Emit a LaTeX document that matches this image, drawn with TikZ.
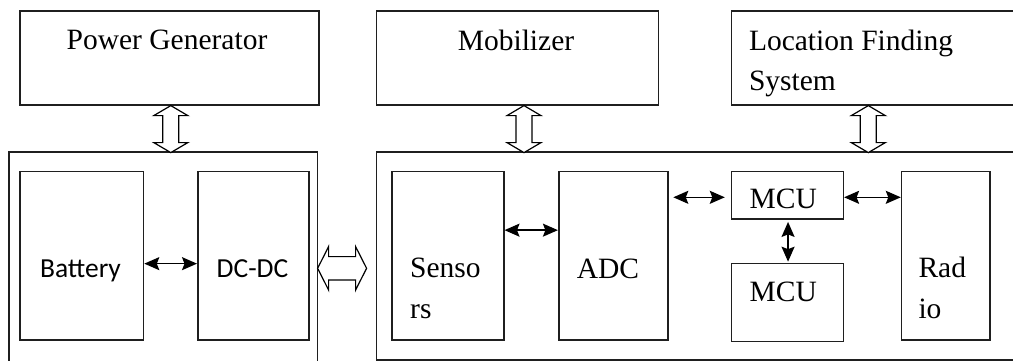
\documentclass[tikz,border=0pt]{standalone}
\usepackage{fontspec}
\setmainfont{Liberation Serif}
\newfontfamily\calibrifont{Carlito}
\usepackage{tikz}
\usetikzlibrary{positioning, arrows.meta, calc}

\begin{document}
\begin{tikzpicture}[x=1pt, y=-1pt,
        every node/.style={font=\fontsize{29.5}{40.5}\selectfont, inner sep=0pt},
        box/.style={rectangle, draw=black!88, line width=1.6pt, anchor=north west},
        sanstext/.style={font=\calibrifont\fontsize{27.5}{33}\selectfont},
        arr/.style={{Stealth[length=15pt, width=13pt, inset=2.5pt]}-{Stealth[length=15pt, width=13pt, inset=2.5pt]}, line width=1.5pt},
        hollow/.style={draw=black, fill=white, line width=1.2pt, line join=miter}]
      \clip (0,0) rectangle (1013,360);
      % top row
      \node[box, minimum width=299pt, minimum height=94pt] (pg) at (19,10) {};
      \node[box, minimum width=282pt, minimum height=94pt] (mob) at (375.8,10) {};
      \node[box, minimum width=300pt, minimum height=94pt] (lfs) at (730.8,10) {};
      \node[anchor=base] (pgtext) at (167,49) {Power Generator};
      \node[anchor=base] (mobtext) at (516,50.7) {Mobilizer};
      \node[anchor=base west, align=left] (lfstext) at (748.8,90.5) {Location Finding\\System};
      % lower units
      \node[box, minimum width=308.7pt, minimum height=215pt] (pwr) at (8,151) {};
      \node[box, minimum width=660pt, minimum height=208pt] (node) at (375.8,151) {};
      \node[box, minimum width=123.4pt, minimum height=168.3pt] (bat) at (19.3,170.7) {};
      \node[box, minimum width=111pt, minimum height=168.3pt] (dcdc) at (197,170.7) {};
      \node[box, minimum width=111.6pt, minimum height=168.3pt] (sens) at (391.3,170.7) {};
      \node[box, minimum width=109.2pt, minimum height=168.3pt] (adc) at (557.9,170.7) {};
      \node[box, minimum width=111.7pt, minimum height=47.6pt] (mcua) at (730.8,170.7) {};
      \node[box, minimum width=111.7pt, minimum height=78pt] (mcub) at (730.8,262.7) {};
      \node[box, minimum width=88.4pt, minimum height=168.3pt] (radio) at (900.8,170.7) {};
      \node[sanstext, anchor=base] (battext) at (80.5,277.3) {Battery};
      \node[sanstext, anchor=base] (dcdctext) at (252.5,277.3) {DC-DC};
      \node[anchor=base west, align=left] (senstext) at (410,318) {Senso\\rs};
      \node[anchor=base] (adctext) at (608,278) {ADC};
      \node[anchor=base] (mcuatext) at (783.3,208) {MCU};
      \node[anchor=base] (mcubtext) at (783.3,301.7) {MCU};
      \node[anchor=base west, align=left] (radiotext) at (918.3,318) {Rad\\io};
      % links
      \draw[arr] ($(bat.east)+(0,8)$) -- ($(dcdc.west)+(0,8)$);
      \draw[arr] ($(sens.east)+(0,-25.5)$) -- ($(adc.west)+(0,-25.5)$);
      \draw[arr] ($(adc.east |- mcua.west)+(4.6,2)$) -- ($(mcua.west)+(-6,2)$);
      \draw[arr] ($(mcua.east)+(0,2)$) -- ($(radio.west |- mcua.east)+(0,2)$);
      \draw[arr] ($(mcua.south)+(0.6,2)$) -- ($(mcub.north)+(0.6,-1)$);
      % hollow double arrows
      \draw[hollow] ($(pg.south)+(1.5,0)$) -- ++(17,10) -- ++(-9,0) -- ++(0,27) -- ++(9,0)
        -- ++(-17,10) -- ++(-17,-10) -- ++(9,0) -- ++(0,-27) -- ++(-9,0) -- cycle;
      \draw[hollow] ($(mob.south)+(6.4,0)$) -- ++(17,10) -- ++(-9,0) -- ++(0,27) -- ++(9,0)
        -- ++(-17,10) -- ++(-17,-10) -- ++(9,0) -- ++(0,-27) -- ++(-9,0) -- cycle;
      \draw[hollow] ($(lfs.south west)+(137.5,0)$) -- ++(17,10) -- ++(-9,0) -- ++(0,27) -- ++(9,0)
        -- ++(-17,10) -- ++(-17,-10) -- ++(9,0) -- ++(0,-27) -- ++(-9,0) -- cycle;
      \draw[hollow] ($(pwr.north east)+(-0.7,117.3)$) -- ++(11,-21.7) -- ++(0,10) -- ++(27,0) -- ++(0,-10)
        -- ++(11,21.7) -- ++(-11,21.7) -- ++(0,-10) -- ++(-27,0) -- ++(0,10) -- cycle;
    \end{tikzpicture}
\end{document}
